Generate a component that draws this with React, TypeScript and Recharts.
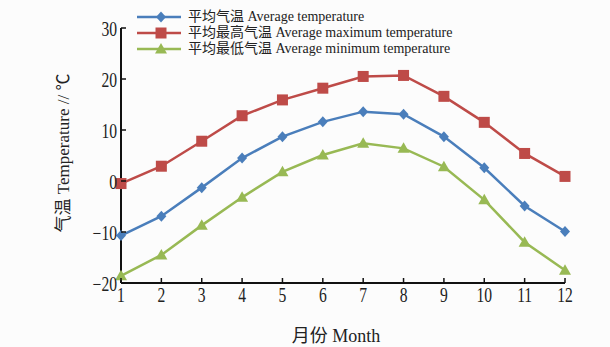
import React from 'react';
import { LineChart, Line, XAxis, YAxis, Label } from 'recharts';

const months = [1, 2, 3, 4, 5, 6, 7, 8, 9, 10, 11, 12];
const avgTemp = [-10.7, -6.9, -1.3, 4.5, 8.7, 11.6, 13.6, 13.1, 8.7, 2.6, -4.9, -9.9];
const maxTemp = [-0.5, 2.9, 7.8, 12.8, 15.9, 18.2, 20.5, 20.7, 16.6, 11.5, 5.4, 0.9];
const minTemp = [-18.6, -14.5, -8.7, -3.2, 1.8, 5.1, 7.4, 6.4, 2.8, -3.7, -12.0, -17.5];
const yTicks = [-20, -10, 0, 10, 20, 30];

const seriesNames = {
  avg: '平均气温 Average temperature',
  max: '平均最高气温 Average maximum temperature',
  min: '平均最低气温 Average minimum temperature',
};

const BLUE = '#4a7ebb';
const RED = '#be4b48';
const GREEN = '#98b954';
const TEXT = '#222';
const serif = "'Liberation Serif', 'Noto Sans CJK SC', serif";

const data = months.map((m, i) => ({
  month: m,
  avg: avgTemp[i],
  max: maxTemp[i],
  min: minTemp[i],
}));

const Diamond = ({ cx, cy, fill }: any) => (
  <path d={`M${cx},${cy - 5.5} L${cx + 5},${cy} L${cx},${cy + 5.5} L${cx - 5},${cy} Z`} fill={fill} />
);
const Square = ({ cx, cy, fill }: any) => (
  <rect x={cx - 5.5} y={cy - 5.5} width={11} height={11} fill={fill} />
);
const Triangle = ({ cx, cy, fill }: any) => (
  <path d={`M${cx},${cy - 6} L${cx + 6},${cy + 4.5} L${cx - 6},${cy + 4.5} Z`} fill={fill} />
);

const XTick = ({ x, y, payload }: any) => (
  <g>
    <line x1={x} y1={y} x2={x} y2={y - 5} stroke="#111" strokeWidth={1.5} />
    <text
      transform={`translate(${x},${y + 19}) scale(0.78,1)`}
      textAnchor="middle"
      fontFamily={serif}
      fontSize={20}
      fill={TEXT}
    >
      {payload.value}
    </text>
  </g>
);

const YTick = ({ x, y, payload }: any) => (
  <g>
    <line x1={x} y1={y} x2={x + 5} y2={y} stroke="#111" strokeWidth={1.5} />
    <text
      transform={`translate(${x - 4},${y + 7.5}) scale(0.78,1)`}
      textAnchor="end"
      fontFamily={serif}
      fontSize={20}
      fill={TEXT}
    >
      {payload.value < 0 ? '\u2212' + Math.abs(payload.value) : payload.value}
    </text>
  </g>
);

const LegendIcon = ({ color, shape }: { color: string; shape: string }) => (
  <svg width={48} height={14} style={{ display: 'block' }}>
    <line x1={2} y1={7} x2={46} y2={7} stroke={color} strokeWidth={2.5} />
    {shape === 'diamond' && <Diamond cx={26} cy={7} fill={color} />}
    {shape === 'square' && <Square cx={26} cy={7} fill={color} />}
    {shape === 'triangle' && <Triangle cx={26} cy={7} fill={color} />}
  </svg>
);

const legendRows = [
  { name: seriesNames.avg, color: BLUE, shape: 'diamond' },
  { name: seriesNames.max, color: RED, shape: 'square' },
  { name: seriesNames.min, color: GREEN, shape: 'triangle' },
];

export default function App() {
  return (
    <div
      style={{
        position: 'absolute',
        left: 0,
        top: 0,
        width: 610,
        height: 347,
        overflow: 'hidden',
        background: '#fcfcfc',
      }}
    >
      <LineChart
        width={610}
        height={347}
        data={data}
        margin={{ top: 28, right: 45, left: 0, bottom: 0 }}
      >
        <XAxis
          dataKey="month"
          type="number"
          domain={[1, 12]}
          ticks={months}
          height={64}
          tickSize={0}
          tickMargin={0}
          tickLine={false}
          axisLine={{ stroke: '#111', strokeWidth: 2 }}
          tick={<XTick />}
        >
          <Label
            content={() => (
              <text x={336} y={342} textAnchor="middle" fontFamily={serif} fontSize={18} fill={TEXT}>
                月份 Month
              </text>
            )}
          />
        </XAxis>
        <YAxis
          type="number"
          domain={[-20, 30]}
          ticks={yTicks}
          width={121}
          tickSize={0}
          tickMargin={0}
          tickLine={false}
          axisLine={{ stroke: '#111', strokeWidth: 2 }}
          tick={<YTick />}
        >
          <Label
            content={() => (
              <text
                x={63}
                y={153}
                transform="rotate(-90, 63, 153)"
                textAnchor="middle"
                dominantBaseline="central"
                fontFamily={serif}
                fontSize={17}
                fill={TEXT}
              >
                气温 Temperature // ℃
              </text>
            )}
          />
        </YAxis>
        <Line
          dataKey="max"
          name={seriesNames.max}
          stroke={RED}
          strokeWidth={2.5}
          dot={(p: any) => <Square key={p.index} cx={p.cx} cy={p.cy} fill={RED} />}
          isAnimationActive={false}
        />
        <Line
          dataKey="avg"
          name={seriesNames.avg}
          stroke={BLUE}
          strokeWidth={2.5}
          dot={(p: any) => <Diamond key={p.index} cx={p.cx} cy={p.cy} fill={BLUE} />}
          isAnimationActive={false}
        />
        <Line
          dataKey="min"
          name={seriesNames.min}
          stroke={GREEN}
          strokeWidth={2.5}
          dot={(p: any) => <Triangle key={p.index} cx={p.cx} cy={p.cy} fill={GREEN} />}
          isAnimationActive={false}
        />
      </LineChart>
      <div style={{ position: 'absolute', left: 135, top: 9 }}>
        {legendRows.map((r) => (
          <div key={r.name} style={{ display: 'flex', alignItems: 'center', height: 16 }}>
            <LegendIcon color={r.color} shape={r.shape} />
            <span
              style={{
                marginLeft: 5,
                fontFamily: serif,
                fontSize: 14,
                color: TEXT,
                whiteSpace: 'nowrap',
                lineHeight: '16px',
              }}
            >
              {r.name}
            </span>
          </div>
        ))}
      </div>
    </div>
  );
}
